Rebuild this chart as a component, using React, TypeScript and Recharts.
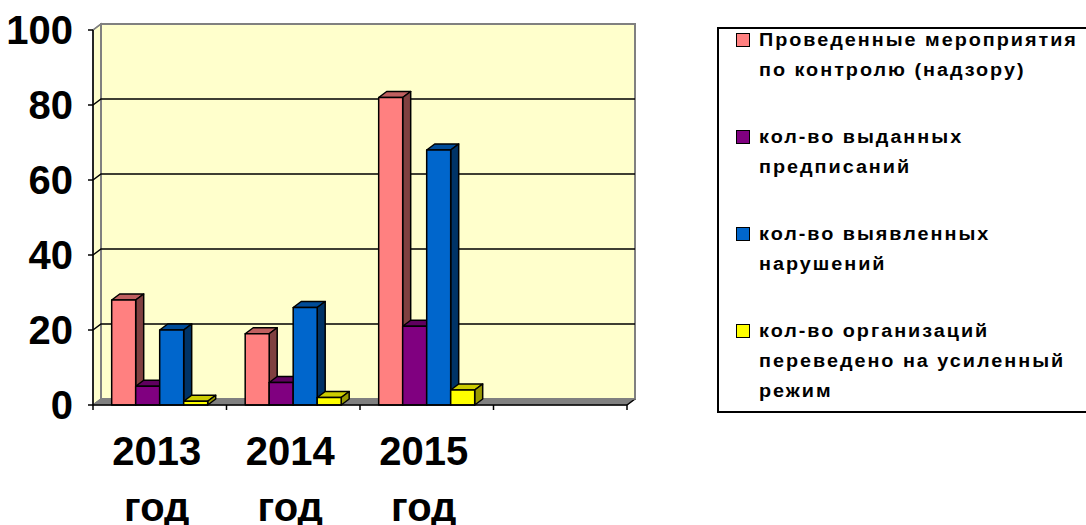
import React from 'react';
import { BarChart, Bar, XAxis, YAxis, CartesianGrid, Legend } from 'recharts';

const years = ['2013', '2014', '2015', ''];
const yearWord = 'год';
const inspections = [28, 19, 82, null];
const orders = [5, 6, 21, null];
const violations = [20, 26, 68, null];
const strictRegime = [1, 2, 4, null];
const yTicks = [0, 20, 40, 60, 80, 100];

const seriesNames = [
  'Проведенные мероприятия\nпо контролю (надзору)',
  'кол-во выданных\nпредписаний',
  'кол-во выявленных\nнарушений',
  'кол-во организаций\nпереведено на усиленный\nрежим',
];

// front / top / side face colours, Excel 2003 style
const series = [
  { key: 'inspections', front: '#FF8080', top: '#C06060', side: '#804040' },
  { key: 'orders', front: '#800080', top: '#600060', side: '#400040' },
  { key: 'violations', front: '#0066CC', top: '#004C99', side: '#003366' },
  { key: 'strictRegime', front: '#FFFF00', top: '#CCCC00', side: '#999900' },
];

const data = years.map((year, i) => ({
  year,
  inspections: inspections[i],
  orders: orders[i],
  violations: violations[i],
  strictRegime: strictRegime[i],
}));

const W = 1086;
const H = 525;
const LEFT = 93;
const TOP = 30;
const RIGHT = 627;
const BOTTOM = 405;
const DX = 8;
const DY = -6;
const BAND = (RIGHT - LEFT) / years.length;
const FONT = '"Liberation Sans", Arial, sans-serif';

const makeBox = (top: string, side: string) => (props: any) => {
  const { x, y, width, height, fill } = props;
  if (x == null || !height || height <= 0) return <g />;
  const r = x + width;
  return (
    <g stroke="#000" strokeWidth={1.5} strokeLinejoin="round">
      <polygon points={`${x},${y} ${x + DX},${y + DY} ${r + DX},${y + DY} ${r},${y}`} fill={top} />
      <polygon
        points={`${r},${y} ${r + DX},${y + DY} ${r + DX},${y + height + DY} ${r},${y + height}`}
        fill={side}
      />
      <rect x={x} y={y} width={width} height={height} fill={fill} />
    </g>
  );
};

const gridLine = (p: any) => {
  const { x1, x2, y1, key } = p;
  const edge = Math.abs(y1 - BOTTOM) < 1 || Math.abs(y1 - TOP) < 1;
  return (
    <path
      key={key}
      d={`M${x1},${y1} L${x1 + DX},${y1 + DY} L${x2 + DX},${y1 + DY}`}
      stroke={edge ? '#808080' : '#000'}
      strokeWidth={1.5}
      fill="none"
    />
  );
};

const YTick = (p: any) => (
  <text
    x={p.x - 13}
    y={p.y}
    dy={14}
    textAnchor="end"
    fontSize={40}
    fontWeight="bold"
    fontFamily={FONT}
    fill="#000"
  >
    {p.payload.value}
  </text>
);

const XTick = (p: any) => {
  const { x, index, payload } = p;
  const last = index === years.length - 1;
  return (
    <g>
      <line x1={x - BAND / 2} x2={x - BAND / 2} y1={BOTTOM} y2={BOTTOM + 5} stroke="#000" strokeWidth={1.5} />
      {last && (
        <line x1={x + BAND / 2} x2={x + BAND / 2} y1={BOTTOM} y2={BOTTOM + 5} stroke="#000" strokeWidth={1.5} />
      )}
      {payload.value && (
        <text textAnchor="middle" fontSize={40} fontWeight="bold" fontFamily={FONT} fill="#000">
          <tspan x={x - 3} y={465}>
            {payload.value}
          </tspan>
          <tspan x={x - 3} y={521}>
            {yearWord}
          </tspan>
        </text>
      )}
    </g>
  );
};

const LegendBox = () => (
  <div style={{ fontFamily: FONT, fontWeight: 'bold', fontSize: 18, letterSpacing: 1.8, color: '#000' }}>
    {series.map((s, i) => (
      <div
        key={s.key}
        style={{ position: 'relative', paddingLeft: 40, marginTop: i === 0 ? -4 : 37, lineHeight: '30px' }}
      >
        <span
          style={{
            position: 'absolute',
            left: 17,
            top: 8,
            width: 14,
            height: 14,
            boxSizing: 'border-box',
            border: '1.5px solid #000',
            background: s.front,
          }}
        />
        {seriesNames[i].split('\n').map((line) => (
          <div key={line} style={{ whiteSpace: 'nowrap', transform: 'scaleX(1.1)', transformOrigin: 'left center' }}>
            {line}
          </div>
        ))}
      </div>
    ))}
  </div>
);

export default function App() {
  return (
    <div style={{ position: 'fixed', left: 0, top: 0, width: W, height: H, overflow: 'hidden', background: '#fff' }}>
      <svg width={W} height={H} style={{ position: 'absolute', left: 0, top: 0 }}>
        <polygon
          points={`${LEFT},${TOP} ${LEFT + DX},${TOP + DY} ${LEFT + DX},${BOTTOM + DY} ${LEFT},${BOTTOM}`}
          fill="#FFFFCC"
          stroke="#808080"
          strokeWidth={1.5}
        />
        <rect
          x={LEFT + DX}
          y={TOP + DY}
          width={RIGHT - LEFT}
          height={BOTTOM - TOP}
          fill="#FFFFCC"
          stroke="#808080"
          strokeWidth={2}
        />
        <polygon
          points={`${LEFT},${BOTTOM} ${LEFT + DX},${BOTTOM + DY} ${RIGHT + DX},${BOTTOM + DY} ${RIGHT},${BOTTOM}`}
          fill="#808080"
          stroke="#808080"
        />
        <line x1={RIGHT} y1={BOTTOM} x2={RIGHT + DX} y2={BOTTOM + DY} stroke="#000" strokeWidth={1.5} />
      </svg>
      <div style={{ position: 'absolute', left: 0, top: 0 }}>
        <BarChart
          width={W}
          height={H}
          data={data}
          margin={{ top: TOP, right: W - RIGHT, left: 0, bottom: 0 }}
          barGap={0}
          barCategoryGap="14%"
        >
          <CartesianGrid vertical={false} horizontal={gridLine} />
          <XAxis
            dataKey="year"
            height={H - BOTTOM}
            axisLine={{ stroke: '#000', strokeWidth: 1.5 }}
            tickLine={false}
            tick={XTick}
            interval={0}
          />
          <YAxis
            width={LEFT}
            domain={[0, 100]}
            ticks={yTicks}
            axisLine={{ stroke: '#000', strokeWidth: 1.5 }}
            tickLine={{ stroke: '#000', strokeWidth: 1.5 }}
            tickSize={5}
            tick={YTick}
          />
          <Legend
            layout="vertical"
            align="center"
            verticalAlign="middle"
            content={LegendBox}
            wrapperStyle={{
              left: 717,
              top: 27,
              width: 372,
              height: 386,
              border: '2px solid #000',
              boxSizing: 'border-box',
              background: '#fff',
            }}
          />
          {series.map((s, i) => (
            <Bar
              key={s.key}
              dataKey={s.key}
              name={seriesNames[i].replace(/\n/g, ' ')}
              fill={s.front}
              shape={makeBox(s.top, s.side)}
              isAnimationActive={false}
            />
          ))}
        </BarChart>
      </div>
    </div>
  );
}
